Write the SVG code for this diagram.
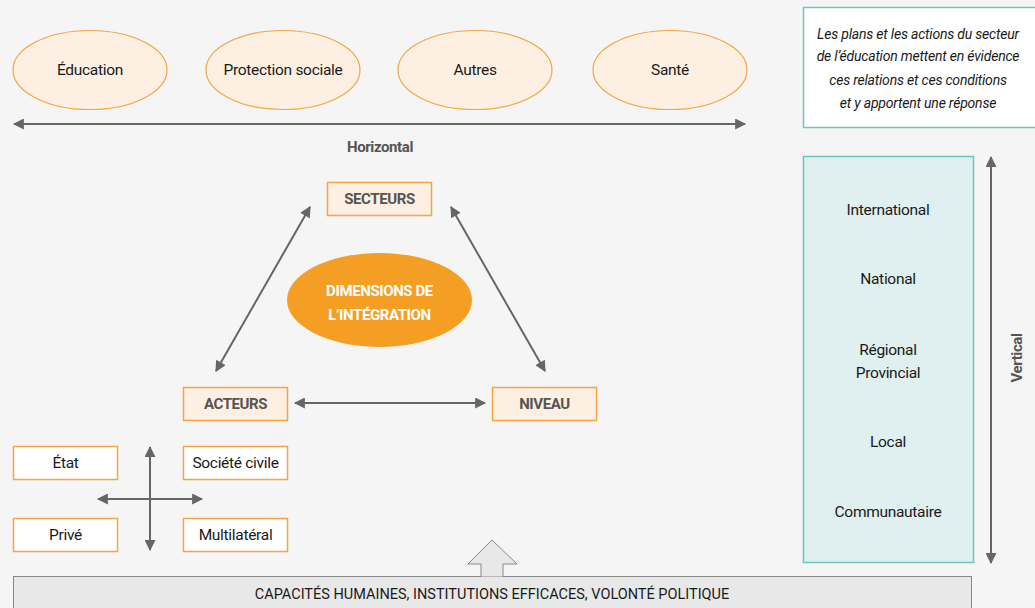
<svg xmlns="http://www.w3.org/2000/svg" width="1035" height="608" viewBox="0 0 1035 608">
<defs>
<marker id="ah" viewBox="0 0 10 10" refX="9" refY="5" markerWidth="6" markerHeight="5.5" orient="auto-start-reverse" markerUnits="strokeWidth">
<path d="M0,0 L10,5 L0,10 z" fill="#666"/>
</marker>
<style>
.t{font-family:Roboto,"Liberation Sans",sans-serif;font-size:15.5px;fill:#1a1a1a;text-anchor:middle;dominant-baseline:central;letter-spacing:-0.3px}
.b{font-family:Roboto,"Liberation Sans",sans-serif;font-size:15px;font-weight:bold;fill:#555;text-anchor:middle;dominant-baseline:central;letter-spacing:-0.4px}
.w{fill:#fff}
.i{font-family:Roboto,"Liberation Sans",sans-serif;font-size:14px;font-style:italic;fill:#1a1a1a;text-anchor:middle;dominant-baseline:central;letter-spacing:-0.2px}
.ell{fill:#fdf0e2;stroke:#f4a640;stroke-width:1.2}
.ob{fill:#fdefe1;stroke:#f4a640;stroke-width:1.5}
.wb{fill:#fff;stroke:#f4a640;stroke-width:1.5}
.c{stroke:#666;stroke-width:2;fill:none;marker-start:url(#ah);marker-end:url(#ah)}
</style>
</defs>
<rect width="1035" height="608" fill="#f5f5f5"/>

<g id="education"><ellipse class="ell" cx="90" cy="70" rx="77" ry="39.5"/><text class="t" x="90" y="70">Éducation</text></g>
<g id="protection"><ellipse class="ell" cx="283" cy="70" rx="77" ry="39.5"/><text class="t" x="283" y="70">Protection sociale</text></g>
<g id="autres"><ellipse class="ell" cx="475" cy="70" rx="77" ry="39.5"/><text class="t" x="475" y="70">Autres</text></g>
<g id="sante"><ellipse class="ell" cx="670" cy="70" rx="77" ry="39.5"/><text class="t" x="670" y="70">Santé</text></g>

<g id="note">
<rect x="803.5" y="7.5" width="240" height="120" fill="#fff" stroke="#6cc5c1" stroke-width="1.5"/>
<text class="i" x="918" y="34">Les plans et les actions du secteur</text>
<text class="i" x="918" y="56">de l’éducation mettent en évidence</text>
<text class="i" x="918" y="80">ces relations et ces conditions</text>
<text class="i" x="918" y="103">et y apportent une réponse</text>
</g>

<g id="secteurs"><rect class="ob" x="327.5" y="182.5" width="104" height="33"/><text class="b" x="379.5" y="199">SECTEURS</text></g>
<g id="acteurs"><rect class="ob" x="183.5" y="387.5" width="104" height="33"/><text class="b" x="235.5" y="404">ACTEURS</text></g>
<g id="niveau"><rect class="ob" x="492.5" y="387.5" width="104" height="33"/><text class="b" x="544.5" y="404">NIVEAU</text></g>
<g id="dimensions"><ellipse cx="379.5" cy="300" rx="92.5" ry="47" fill="#f49f24"/>
<text class="b w" x="379.5" y="291">DIMENSIONS DE</text><text class="b w" x="379.5" y="315">L’INTÉGRATION</text></g>

<g id="niveaux">
<rect x="803.5" y="156.5" width="170" height="406" fill="#e0efef" stroke="#6cc5c1" stroke-width="1.5"/>
<text class="t" x="888" y="210">International</text>
<text class="t" x="888" y="279">National</text>
<text class="t" x="888" y="350">Régional</text>
<text class="t" x="888" y="373">Provincial</text>
<text class="t" x="888" y="442">Local</text>
<text class="t" x="888" y="512">Communautaire</text>
</g>

<g id="etat"><rect class="wb" x="13.5" y="446.5" width="104" height="33"/><text class="t" x="65.5" y="463">État</text></g>
<g id="societe"><rect class="wb" x="183.5" y="446.5" width="104" height="33"/><text class="t" x="235.5" y="463">Société civile</text></g>
<g id="prive"><rect class="wb" x="13.5" y="518.5" width="104" height="33"/><text class="t" x="65.5" y="535">Privé</text></g>
<g id="multilateral"><rect class="wb" x="183.5" y="518.5" width="104" height="33"/><text class="t" x="235.5" y="535">Multilatéral</text></g>

<g id="capacites">
<rect x="13.5" y="576.5" width="958" height="40" fill="#e8e8e8" stroke="#888" stroke-width="1"/>
<text class="t" x="492" y="594" style="font-size:14.5px;letter-spacing:0px">CAPACITÉS HUMAINES, INSTITUTIONS EFFICACES, VOLONTÉ POLITIQUE</text>
<path d="M481,576.5 L481,564 L468,564 L492,540 L517,564 L503,564 L503,576.5" fill="#e8e8e8" stroke="#888" stroke-width="1"/>
</g>

<g id="connectors">
<line class="c" x1="14" y1="124" x2="745" y2="124"/>
<text class="b" x="380" y="147">Horizontal</text>
<line class="c" x1="216" y1="371" x2="310" y2="207"/>
<line class="c" x1="451" y1="207" x2="545" y2="371"/>
<line class="c" x1="295" y1="403" x2="485" y2="403"/>
<line class="c" x1="991" y1="157" x2="991" y2="563"/>
<text class="b" x="1017" y="358" transform="rotate(-90 1017 358)">Vertical</text>
<line class="c" x1="150" y1="447" x2="150" y2="550"/>
<line class="c" x1="98" y1="499" x2="202" y2="499"/>
</g>
</svg>
